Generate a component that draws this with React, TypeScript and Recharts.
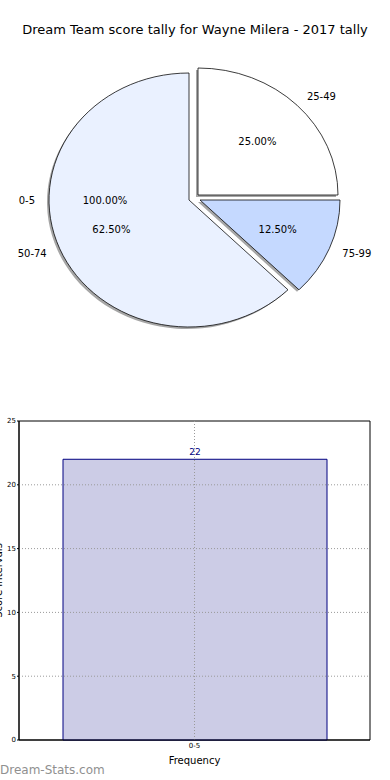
import { PieChart, Pie, Cell, BarChart, Bar, XAxis, YAxis, LabelList, ReferenceLine, ReferenceArea } from 'recharts';

const pieLabels = ['25-49', '50-74', '75-99'];
const pieCounts = [2, 5, 1];
const pieColors = ['#ffffff', '#eaf1ff', '#c5d9ff'];

const barCategories = ['0-5'];
const barCounts = [22];
const yTicks = [0, 5, 10, 15, 20, 25];

const pieData = pieLabels.map((name, i) => ({ name, value: pieCounts[i] }));
const bandData = barCategories.map((name, i) => ({ name, value: barCounts[i] }));
const barData = barCategories.map((cat, i) => ({ cat, count: barCounts[i] }));

// matplotlib pie is drawn with non-equal aspect, so squash it vertically
const R = 140;
const SY = 127 / 140;
const CX = 189;
const CY = 200;
const RAD = Math.PI / 180;
const FONT = '"DejaVu Sans", sans-serif';

// per-slice explode offset (screen px)
const explode: Record<string, [number, number]> = {
  '25-49': [9, -5],
  '50-74': [0, 0],
  '75-99': [11, 0],
};

const dotted = { stroke: '#9a9a9a', strokeDasharray: '1 2', strokeWidth: 1 };

function makeLabel(owner: string) {
  return (p: any) => {
    const name = p.payload?.name ?? p.name;
    if (name !== owner) return null;
    const a = -p.midAngle * RAD;
    const cos = Math.cos(a);
    const sin = Math.sin(a);
    const ox = p.cx + 1.1 * R * cos;
    const oy = p.cy + 1.1 * R * sin;
    const ix = p.cx + 0.6 * R * cos;
    const iy = p.cy + 0.6 * R * sin;
    const style = { fontFamily: FONT, fontSize: 10, fill: '#000' };
    return (
      <g>
        <text
          transform={`translate(${ox},${oy}) scale(1,${1 / SY})`}
          textAnchor={cos > 0.001 ? 'start' : 'end'}
          dominantBaseline="central"
          style={style}
        >
          {name}
        </text>
        <text
          transform={`translate(${ix},${iy}) scale(1,${1 / SY})`}
          textAnchor="middle"
          dominantBaseline="central"
          style={style}
        >
          {(p.percent * 100).toFixed(2)}%
        </text>
      </g>
    );
  };
}

export default function App() {
  return (
    <div style={{ position: 'absolute', left: 0, top: 0, width: 390, height: 780, background: '#fff', overflow: 'hidden' }}>
      <div
        style={{
          position: 'absolute',
          top: 21,
          left: 0,
          width: 390,
          textAlign: 'center',
          fontFamily: FONT,
          fontSize: 13,
          lineHeight: '18px',
          color: '#000',
        }}
      >
        Dream Team score tally for Wayne Milera - 2017 tally
      </div>

      <div
        style={{
          position: 'absolute',
          top: 0,
          left: 0,
          width: 390,
          height: 400,
          transform: `scaleY(${SY})`,
          transformOrigin: `0px ${CY}px`,
        }}
      >
        <PieChart width={390} height={400} margin={{ top: 0, right: 0, bottom: 0, left: 0 }}>
          {pieLabels.map((owner) => (
            <Pie
              key={'sh-' + owner}
              data={pieData}
              dataKey="value"
              nameKey="name"
              cx={CX + explode[owner][0] - 2}
              cy={CY + (explode[owner][1] + 2) / SY}
              outerRadius={R}
              startAngle={0}
              endAngle={360}
              isAnimationActive={false}
              label={false}
              labelLine={false}
            >
              {pieData.map((d) => (
                <Cell
                  key={d.name}
                  fill={d.name === owner ? '#4d4d4d' : 'none'}
                  fillOpacity={0.5}
                  stroke="none"
                />
              ))}
            </Pie>
          ))}
          {pieLabels.map((owner) => (
            <Pie
              key={'p-' + owner}
              data={pieData}
              dataKey="value"
              nameKey="name"
              cx={CX + explode[owner][0]}
              cy={CY + explode[owner][1] / SY}
              outerRadius={R}
              startAngle={0}
              endAngle={360}
              isAnimationActive={false}
              label={makeLabel(owner)}
              labelLine={false}
            >
              {pieData.map((d, i) => (
                <Cell
                  key={d.name}
                  fill={d.name === owner ? pieColors[i] : 'none'}
                  stroke={d.name === owner ? '#000' : 'none'}
                  strokeWidth={0.8}
                />
              ))}
            </Pie>
          ))}
          <Pie
            data={bandData}
            dataKey="value"
            nameKey="name"
            cx={CX}
            cy={CY}
            outerRadius={R}
            startAngle={0}
            endAngle={360}
            isAnimationActive={false}
            label={makeLabel('0-5')}
            labelLine={false}
          >
            {bandData.map((d) => (
              <Cell key={d.name} fill="none" stroke="none" />
            ))}
          </Pie>
        </PieChart>
      </div>

      <div style={{ position: 'absolute', top: 400, left: 0 }}>
        <BarChart width={390} height={380} data={barData} margin={{ top: 21, right: 20, bottom: 0, left: 0 }}>
          <XAxis
            dataKey="cat"
            height={40}
            axisLine={{ stroke: '#000' }}
            tickLine={false}
            tickSize={2}
            tickMargin={1}
            tick={{ fontSize: 7, fontFamily: FONT, fill: '#000' }}
            label={{ value: 'Frequency', position: 'insideTop', offset: 17, fontSize: 10, fontFamily: FONT, fill: '#000' }}
          />
          <YAxis
            width={19}
            domain={[0, 25]}
            ticks={yTicks}
            interval={0}
            axisLine={{ stroke: '#000' }}
            tickSize={2}
            tickLine={{ stroke: '#000' }}
            tickMargin={1}
            tick={{ fontSize: 7, fontFamily: FONT, fill: '#000' }}
            label={({ viewBox }: any) => (
              <text
                transform={`translate(2,${viewBox.y + viewBox.height / 2}) rotate(-90)`}
                textAnchor="middle"
                style={{ fontFamily: FONT, fontSize: 10, fill: '#000' }}
              >
                Score Intervals
              </text>
            )}
          />
          <Bar dataKey="count" fill="#ccccE6" stroke="#000080" strokeWidth={1} barSize={264} isAnimationActive={false}>
            <LabelList dataKey="count" position="top" offset={4} style={{ fontSize: 9, fontFamily: FONT, fill: '#000080' }} />
          </Bar>
          {yTicks.slice(1, -1).map((t) => (
            <ReferenceLine key={t} y={t} {...dotted} />
          ))}
          {barCategories.map((c) => (
            <ReferenceLine key={c} x={c} {...dotted} />
          ))}
          <ReferenceArea y1={yTicks[0]} y2={yTicks[yTicks.length - 1]} fill="none" fillOpacity={0} stroke="#000" strokeWidth={1} />
        </BarChart>
      </div>

      <div
        style={{
          position: 'absolute',
          left: 0,
          top: 763,
          fontFamily: FONT,
          fontSize: 12,
          color: '#909090',
          lineHeight: '14px',
        }}
      >
        Dream-Stats.com
      </div>
    </div>
  );
}
